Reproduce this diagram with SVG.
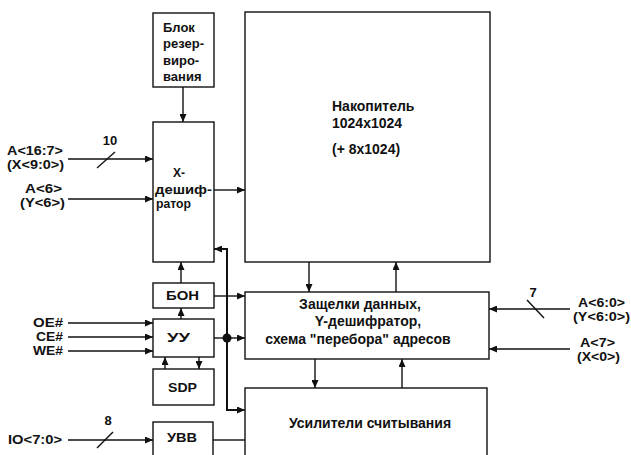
<svg xmlns="http://www.w3.org/2000/svg" width="631" height="455" viewBox="0 0 631 455">
<defs>
<marker id="ah" markerUnits="userSpaceOnUse" markerWidth="9" markerHeight="7" refX="8" refY="3.5" orient="auto">
<path d="M0,0 L8,3.5 L0,7 z" fill="#111"/>
</marker>
</defs>
<style>
.box{fill:#fff;stroke:#111;stroke-width:1.4}
.ln{fill:none;stroke:#111;stroke-width:1.4}
.bus{fill:none;stroke:#111;stroke-width:2}
.arr{marker-end:url(#ah)}
text{font-family:"Liberation Sans",Arial,sans-serif;font-weight:bold;font-size:13px;fill:#111}
.s{font-size:12px}
.b{font-size:14px}
.m{text-anchor:middle}
.e{text-anchor:end}
</style>
<rect width="631" height="455" fill="#fff"/>

<g id="connectors">
<line class="ln arr" x1="183" y1="87" x2="183" y2="122"/>
<line class="ln arr" x1="68" y1="159" x2="153" y2="159"/>
<line class="ln" x1="97" y1="168" x2="115" y2="152"/>
<line class="ln arr" x1="68" y1="199" x2="153" y2="199"/>
<line class="ln arr" x1="214" y1="190" x2="245" y2="190"/>
<line class="ln arr" x1="181" y1="283" x2="181" y2="262"/>
<line class="ln arr" x1="181" y1="319" x2="181" y2="308"/>
<line class="ln arr" x1="165" y1="369" x2="165" y2="357"/>
<line class="ln arr" x1="199" y1="357" x2="199" y2="369"/>
<line class="ln arr" x1="68" y1="323" x2="153" y2="323"/>
<line class="ln arr" x1="68" y1="337" x2="153" y2="337"/>
<line class="ln arr" x1="68" y1="351" x2="153" y2="351"/>
<line class="ln arr" x1="68" y1="440" x2="153" y2="440"/>
<line class="ln" x1="97" y1="448" x2="113" y2="432"/>
<line class="ln arr" x1="214" y1="296" x2="245" y2="296"/>
<line class="ln arr" x1="214" y1="338" x2="245" y2="338"/>
<polyline class="bus arr" points="227,338 227,249 214,249"/>
<polyline class="bus" points="227,338 227,410 238,410"/>
<line class="ln arr" x1="236" y1="410" x2="245" y2="410"/>
<circle cx="227" cy="338" r="4.5" fill="#111"/>
<line class="ln" x1="213" y1="440" x2="245" y2="440"/>
<line class="ln arr" x1="309" y1="262" x2="309" y2="292"/>
<line class="ln arr" x1="396" y1="292" x2="396" y2="262"/>
<line class="ln arr" x1="315" y1="359" x2="315" y2="388"/>
<line class="ln arr" x1="402" y1="388" x2="402" y2="359"/>
<line class="ln arr" x1="570" y1="309" x2="489" y2="309"/>
<line class="ln" x1="527" y1="300" x2="544" y2="318"/>
<line class="ln arr" x1="570" y1="349" x2="489" y2="349"/>
</g>

<g id="labels">
<text class="m" x="110" y="145">10</text>
<text class="s" x="7" y="155" textLength="56" lengthAdjust="spacingAndGlyphs">A&lt;16:7&gt;</text>
<text class="s" x="7" y="169" textLength="57" lengthAdjust="spacingAndGlyphs">(X&lt;9:0&gt;)</text>
<text class="s" x="25" y="193" textLength="37" lengthAdjust="spacingAndGlyphs">A&lt;6&gt;</text>
<text class="s" x="20" y="207" textLength="45" lengthAdjust="spacingAndGlyphs">(Y&lt;6&gt;)</text>
<text class="s" x="33" y="327" textLength="30" lengthAdjust="spacingAndGlyphs">OE#</text>
<text class="s" x="36" y="341" textLength="27" lengthAdjust="spacingAndGlyphs">CE#</text>
<text class="s" x="33" y="355" textLength="30" lengthAdjust="spacingAndGlyphs">WE#</text>
<text class="s" x="8" y="444" textLength="54" lengthAdjust="spacingAndGlyphs">IO&lt;7:0&gt;</text>
<text class="m" x="108" y="425">8</text>
<text class="m" x="533" y="297">7</text>
<text class="s" x="578" y="307" textLength="47" lengthAdjust="spacingAndGlyphs">A&lt;6:0&gt;</text>
<text class="s" x="573" y="321" textLength="57" lengthAdjust="spacingAndGlyphs">(Y&lt;6:0&gt;)</text>
<text class="s" x="580" y="347" textLength="35" lengthAdjust="spacingAndGlyphs">A&lt;7&gt;</text>
<text class="s" x="577" y="361" textLength="43" lengthAdjust="spacingAndGlyphs">(X&lt;0&gt;)</text>
</g>

<g id="rez">
<rect class="box" x="153" y="13" width="61" height="74"/>
<text x="163" y="32">Блок</text>
<text x="163" y="48">резер-</text>
<text x="163" y="65">виро-</text>
<text x="163" y="81">вания</text>
</g>

<g id="xdec">
<rect class="box" x="153" y="122" width="61" height="140"/>
<text x="173" y="177" textLength="12" lengthAdjust="spacingAndGlyphs">X-</text>
<text x="155" y="194" textLength="57" lengthAdjust="spacingAndGlyphs">дешиф-</text>
<text x="156" y="208" textLength="35" lengthAdjust="spacingAndGlyphs">ратор</text>
</g>

<g id="bon">
<rect class="box" x="153" y="283" width="61" height="25"/>
<text x="166" y="300" textLength="33" lengthAdjust="spacingAndGlyphs">БОН</text>
</g>

<g id="uu">
<rect class="box" x="153" y="319" width="61" height="38"/>
<text x="167" y="342" textLength="23" lengthAdjust="spacingAndGlyphs">УУ</text>
</g>

<g id="sdp">
<rect class="box" x="153" y="369" width="61" height="36"/>
<text x="168" y="392" textLength="29" lengthAdjust="spacingAndGlyphs">SDP</text>
</g>

<g id="uvv">
<rect class="box" x="153" y="422" width="60" height="45"/>
<text x="167" y="442" textLength="30" lengthAdjust="spacingAndGlyphs">УВВ</text>
</g>

<g id="nak">
<rect class="box" x="245" y="12" width="245" height="250"/>
<text class="b" x="332" y="111">Накопитель</text>
<text class="b" x="332" y="128">1024x1024</text>
<text class="b" x="332" y="154">(+ 8x1024)</text>
</g>

<g id="latch">
<rect class="box" x="245" y="292" width="244" height="67"/>
<text class="b m" x="360" y="309">Защелки данных,</text>
<text class="b m" x="368" y="326">Y-дешифратор,</text>
<text class="b m" x="358" y="344">схема "перебора" адресов</text>
</g>

<g id="amp">
<rect class="box" x="245" y="388" width="242" height="80"/>
<text class="b m" x="370" y="428">Усилители считывания</text>
</g>
</svg>
